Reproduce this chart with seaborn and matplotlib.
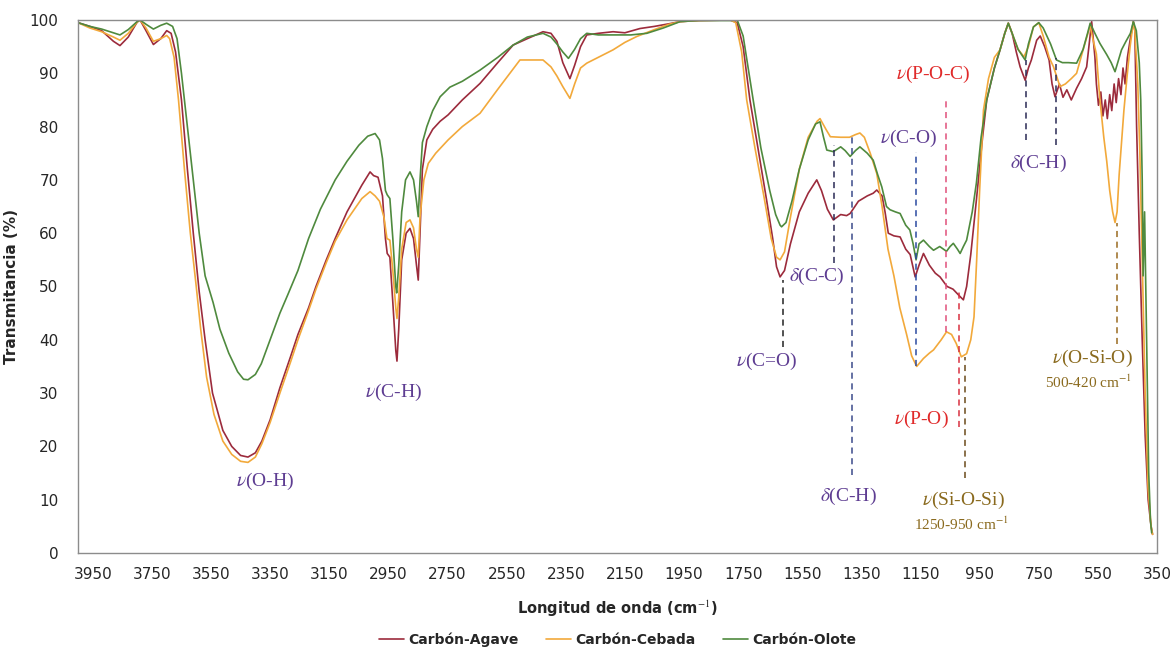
import numpy as np
import pandas as pd
import seaborn as sns
import matplotlib.pyplot as plt

agave_wn = [4000, 3960, 3920, 3880, 3858, 3830, 3800, 3790, 3770, 3745, 3720, 3700, 3685, 3670, 3650,
            3630, 3610, 3590, 3570, 3545, 3510, 3480, 3450, 3425, 3400, 3378, 3350, 3317, 3280, 3256,
            3220, 3195, 3160, 3130, 3090, 3040, 3012, 3000, 2985, 2970, 2960, 2954, 2945, 2935, 2925,
            2921, 2915, 2905, 2890, 2877, 2865, 2855, 2849, 2843, 2835, 2820, 2800, 2775, 2748, 2700,
            2640, 2580, 2528, 2480, 2427, 2400, 2380, 2360, 2336, 2320, 2300, 2279, 2240, 2190, 2150,
            2099, 2050, 2000, 1963, 1900, 1794, 1770, 1750, 1727, 1700, 1670, 1650, 1637, 1625, 1610,
            1590, 1560, 1530, 1501, 1485, 1465, 1445, 1420, 1400, 1388, 1360, 1330, 1310, 1298, 1280,
            1270, 1259, 1240, 1219, 1200, 1185, 1168, 1155, 1140, 1120, 1100, 1084, 1060, 1040, 1016,
            1005, 994, 980, 961, 940, 926, 900, 881, 865, 853, 840, 826, 813, 796, 785,
            775, 757, 745, 730, 715, 705, 695, 680, 668, 655, 640, 622, 605, 588, 571,
            560, 555, 548, 540, 533, 525, 518, 510, 503, 495, 488, 480, 472, 465, 458,
            450, 441, 430, 425, 419, 410, 400, 390, 380, 370, 365]
agave_t = [99.5, 98.8, 98.0, 96.0, 95.2, 96.8, 99.6, 100, 98.0, 95.4, 96.5, 98.0, 97.5, 94, 85,
           72, 60, 49, 40, 30, 23, 20, 18.3, 18.0, 18.8, 21, 25, 31, 37, 41,
           46, 50, 55, 59, 64, 69, 71.5, 70.8, 70.5, 67, 59, 56.2, 55.5, 47, 38,
           36, 42, 55, 60, 60.9, 59, 54, 51.2, 60, 72, 77.5, 79.5, 81, 82.2, 85,
           88.1, 92, 95.3, 96.5, 97.8, 97.5, 96, 92, 89.0, 91.5, 95, 97.2, 97.5, 97.8, 97.6,
           98.4, 98.8, 99.3, 99.7, 99.9, 100, 99.5, 95, 85, 76, 66, 59, 53.7, 51.8, 53,
           58, 64, 67.5, 70, 68, 64.5, 62.5, 63.5, 63.3, 63.7, 66, 67, 67.5, 68.1, 67,
           64, 60, 59.5, 59.3, 57, 56, 51.8, 54, 56.2, 54, 52.5, 51.8, 50, 49.5, 48.1,
           47.5, 50, 56, 66.2, 78, 85, 91, 94.4, 97.5, 99.4, 97.5, 94, 91.2, 88.7, 91,
           92.5, 96.2, 97, 95, 92.5, 88, 85.6, 88, 85.5, 86.9, 85, 87.2, 89, 91.2, 99.7,
           93, 88, 84, 86.5, 82, 85, 81.5, 86, 83, 88, 84.5, 89, 86, 91, 88,
           93, 96.2, 99.7, 98, 80, 60, 40, 22, 10, 5, 3.5]

cebada_wn = [4000, 3960, 3920, 3880, 3858, 3830, 3800, 3790, 3770, 3745, 3720, 3700, 3690, 3675, 3660,
             3640, 3620, 3600, 3585, 3565, 3540, 3510, 3480, 3450, 3425, 3400, 3378, 3350, 3317, 3280,
             3256, 3220, 3195, 3160, 3130, 3090, 3040, 3012, 2995, 2980, 2965, 2955, 2945, 2935, 2925,
             2921, 2915, 2905, 2890, 2877, 2865, 2855, 2849, 2843, 2830, 2815, 2790, 2748, 2700, 2640,
             2580, 2505, 2440, 2427, 2400, 2380, 2360, 2336, 2320, 2300, 2279, 2240, 2190, 2150, 2110,
             2050, 2000, 1963, 1900, 1794, 1775, 1755, 1738, 1710, 1680, 1655, 1637, 1625, 1610, 1590,
             1560, 1530, 1500, 1490, 1470, 1455, 1420, 1390, 1370, 1355, 1340, 1320, 1298, 1280, 1260,
             1240, 1220, 1197, 1180, 1163, 1140, 1120, 1106, 1080, 1062, 1045, 1029, 1012, 994, 980,
             969, 960, 950, 937, 920, 900, 881, 865, 853, 840, 820, 800, 785, 768, 750,
             735, 715, 700, 678, 660, 640, 622, 600, 580, 576, 565, 555, 543, 530, 520,
             510, 500, 492, 485, 478, 470, 462, 452, 441, 430, 425, 415, 408, 400, 390,
             380, 370, 365]
cebada_t = [99.5, 98.5, 97.8, 96.8, 96.2, 97.5, 99.6, 100, 98.5, 96, 96.5, 97.1, 96.5, 93, 85,
            72, 60, 50, 42, 33, 26, 21, 18.5, 17.2, 17.0, 18, 20.5, 24.5, 30, 36,
            40, 45.5, 49.5, 54.5, 58.5, 62.5, 66.5, 67.8, 67, 66, 63, 59, 58.7, 53, 46,
            44, 48, 57, 62, 62.5, 61, 57, 55.5, 63, 70, 73.1, 75, 77.5, 80, 82.5,
            87, 92.5, 92.5, 92.5, 91.2, 89.5, 87.5, 85.3, 88, 91, 91.9, 93, 94.4, 95.8, 96.9,
            98.2, 99.2, 99.7, 99.9, 100, 99.5, 94, 85, 76, 67, 59, 55.5, 55, 56.5, 63,
            72, 78, 81, 81.5, 79.5, 78.1, 78, 78, 78.5, 78.8, 78, 75, 71.2, 65, 57,
            52, 46, 41, 37, 35, 36.5, 37.5, 38.1, 40, 41.5, 41, 39.3, 36.8, 37.4, 40,
            44.3, 55, 68, 83.1, 89, 93, 94.4, 97.5, 99.4, 97.5, 94.5, 93.1, 95, 98.7, 99.5,
            97, 93, 91.2, 87.5, 88, 89, 90, 94.4, 98.2, 98.8, 96, 93.6, 85, 78, 73.5,
            68, 64, 62.0, 64, 71, 77, 83, 89, 95, 99.7, 98, 88, 75, 55, 30,
            12, 5, 3.5]

olote_wn = [4000, 3960, 3920, 3880, 3858, 3830, 3800, 3790, 3770, 3745, 3720, 3700, 3680, 3665, 3650,
            3630, 3610, 3590, 3570, 3543, 3520, 3490, 3460, 3440, 3425, 3400, 3380, 3350, 3317, 3290,
            3256, 3220, 3180, 3130, 3090, 3050, 3020, 2995, 2980, 2970, 2960, 2954, 2945, 2935, 2925,
            2922, 2915, 2905, 2892, 2877, 2865, 2855, 2849, 2843, 2835, 2820, 2800, 2775, 2742, 2700,
            2640, 2580, 2528, 2480, 2427, 2400, 2380, 2360, 2341, 2320, 2300, 2279, 2240, 2190, 2130,
            2076, 2020, 1963, 1900, 1794, 1770, 1750, 1716, 1690, 1660, 1640, 1625, 1620, 1605, 1585,
            1560, 1530, 1505, 1490, 1478, 1467, 1445, 1420, 1405, 1388, 1370, 1355, 1330, 1310, 1295,
            1281, 1265, 1253, 1235, 1219, 1200, 1186, 1175, 1165, 1155, 1140, 1120, 1106, 1085, 1062,
            1050, 1039, 1025, 1016, 1005, 994, 975, 961, 945, 926, 900, 881, 865, 853, 840,
            820, 796, 785, 768, 750, 735, 710, 690, 670, 650, 622, 600, 585, 576, 560,
            543, 520, 505, 492, 480, 470, 455, 440, 430, 420, 410, 405, 400, 397, 392,
            385, 378, 372, 368]
olote_t = [99.5, 98.8, 98.3, 97.6, 97.2, 98.2, 99.7, 100, 99.2, 98.3, 99, 99.4, 98.8, 96.5, 90,
           80, 70, 60, 52, 47, 42, 37.5, 34, 32.6, 32.5, 33.5, 35.5, 40, 45, 48.5,
           53, 59, 64.5, 70, 73.5, 76.5, 78.2, 78.7, 77.5, 74, 68, 67.2, 66.5, 59, 50,
           48.8, 54, 64, 70, 71.5, 70, 66, 63.1, 70, 77, 80, 83, 85.6, 87.4, 88.5,
           90.6, 93, 95.3, 96.8, 97.5, 96.8, 95.5, 94, 92.8, 94.5, 96.5, 97.5, 97.2, 97.2, 97.2,
           97.5, 98.5, 99.7, 99.9, 99.9, 100, 97, 85, 76, 68, 63.5, 61.5, 61.2, 62, 66,
           72, 77.5, 80.5, 80.9, 78, 75.6, 75.3, 76.2, 75.5, 74.4, 75.5, 76.2, 75, 73.7, 71,
           68.7, 65, 64.4, 64, 63.7, 61.5, 60.6, 58, 55, 58, 58.7, 57.5, 56.8, 57.5, 56.6,
           57.5, 58.1, 57, 56.2, 57.5, 58.7, 64, 69.4, 78, 85, 91, 94.4, 97.5, 99.4, 97.5,
           94.5, 92.5, 95.5, 98.7, 99.5, 98.5, 95.5, 92.5, 92, 92, 91.9, 94.5, 97.5, 99.4, 97.5,
           95.6, 93.5, 92, 90.3, 92.5, 94.4, 96, 97.5, 99.7, 98, 92, 85, 70, 52, 64,
           40, 15, 6, 3.8]

muestras = ['Carbón-Agave', 'Carbón-Cebada', 'Carbón-Olote']
colores = ['#9c2b3c', '#f2a93b', '#4f8a3e']

# bandas asignadas: (numero de onda, T superior, T inferior)
bandas_wn = [1616, 1442, 1383, 1165, 1065, 1021, 1000, 793, 691, 486]
bandas_top = [51.2, 76.5, 78.7, 75.3, 85.6, 49.0, 36.8, 92.5, 92.8, 61.9]
bandas_bot = [38.7, 54.4, 14.6, 35.0, 41.5, 23.7, 14.0, 77.5, 76.5, 39.3]
bandas_color = ['#222222', '#2a2a55', '#3a4a8a', '#2b4aa0', '#e0507a', '#d83040',
                '#6b4a1a', '#2a2a55', '#2a2a55', '#9a6b20']

# etiquetas: (texto, numero de onda, T, color)
etiquetas = [
    (r'$\nu$(O-H)', 3367, 13.5, '#5e3d92'),
    (r'$\nu$(C-H)', 2934, 30.2, '#5e3d92'),
    (r'$\nu$(C=O)', 1670, 35.9, '#5e3d92'),
    (r'$\delta$(C-C)', 1501, 51.8, '#5e3d92'),
    (r'$\delta$(C-H)', 1394, 10.6, '#5e3d92'),
    (r'$\nu$(C-O)', 1191, 77.8, '#5e3d92'),
    (r'$\nu$(P-O-C)', 1106, 89.7, '#e02a2a'),
    (r'$\nu$(P-O)', 1146, 25.0, '#e02a2a'),
    (r'$\nu$(Si-O-Si)', 1005, 9.9, '#8a6a1e'),
    (r'$\delta$(C-H)', 751, 73.1, '#5e3d92'),
    (r'$\nu$(O-Si-O)', 568, 36.5, '#8a6a1e'),
]
rangos = [('1250-950 cm$^{-1}$', 1011, 5.4, '#8a6a1e'),
          ('500-420 cm$^{-1}$', 580, 32.1, '#8a6a1e')]

frames = []
for nombre, wn, t in [(muestras[0], agave_wn, agave_t),
                      (muestras[1], cebada_wn, cebada_t),
                      (muestras[2], olote_wn, olote_t)]:
    frames.append(pd.DataFrame({'wn': wn, 'T': t, 'muestra': nombre}))
df = pd.concat(frames, ignore_index=True)

sns.set_style('white')
plt.rcParams['font.family'] = ['DejaVu Sans']
plt.rcParams['mathtext.fontset'] = 'stix'

fig = plt.figure(figsize=(11.76, 6.54), dpi=100)
ax = fig.add_axes([78 / 1176, 1 - 553 / 654, 1079 / 1176, 533 / 654])

sns.lineplot(data=df, x='wn', y='T', hue='muestra', palette=dict(zip(muestras, colores)),
             sort=False, estimator=None, lw=1.2, ax=ax)

ax.vlines(bandas_wn, bandas_bot, bandas_top, colors=bandas_color, linestyles=(0, (4, 3)), lw=1.1)

for txt, x, y, c in etiquetas:
    ax.text(x, y, txt, color=c, fontsize=14, family='Liberation Serif', ha='center', va='center')
for txt, x, y, c in rangos:
    ax.text(x, y, txt, color=c, fontsize=11, family='Liberation Serif', ha='center', va='center')

ax.set_xlim(4000, 350)
ax.set_ylim(0, 100)
ax.set_xticks(np.arange(3950, 349, -200))
ax.set_yticks(np.arange(0, 101, 10))
ax.tick_params(axis='x', direction='in', length=5, color='#999999', labelsize=11, pad=10)
ax.tick_params(axis='y', length=0, labelsize=11, pad=14)
for s in ax.spines.values():
    s.set_color('#8c8c8c')
    s.set_linewidth(1)

ax.set_xlabel('Longitud de onda (cm$^{-1}$)', fontsize=10.5, fontweight='bold', labelpad=12)
ax.set_ylabel('Transmitancia (%)', fontsize=11, fontweight='bold', labelpad=8)

sns.move_legend(ax, 'center', bbox_to_anchor=(0.5, (553 - 640) / 533),
                ncol=3, frameon=False, title=None, handlelength=1.8, handletextpad=0.3,
                columnspacing=2.0, prop={'weight': 'bold', 'size': 10})

fig.savefig('out.png', dpi=100)
